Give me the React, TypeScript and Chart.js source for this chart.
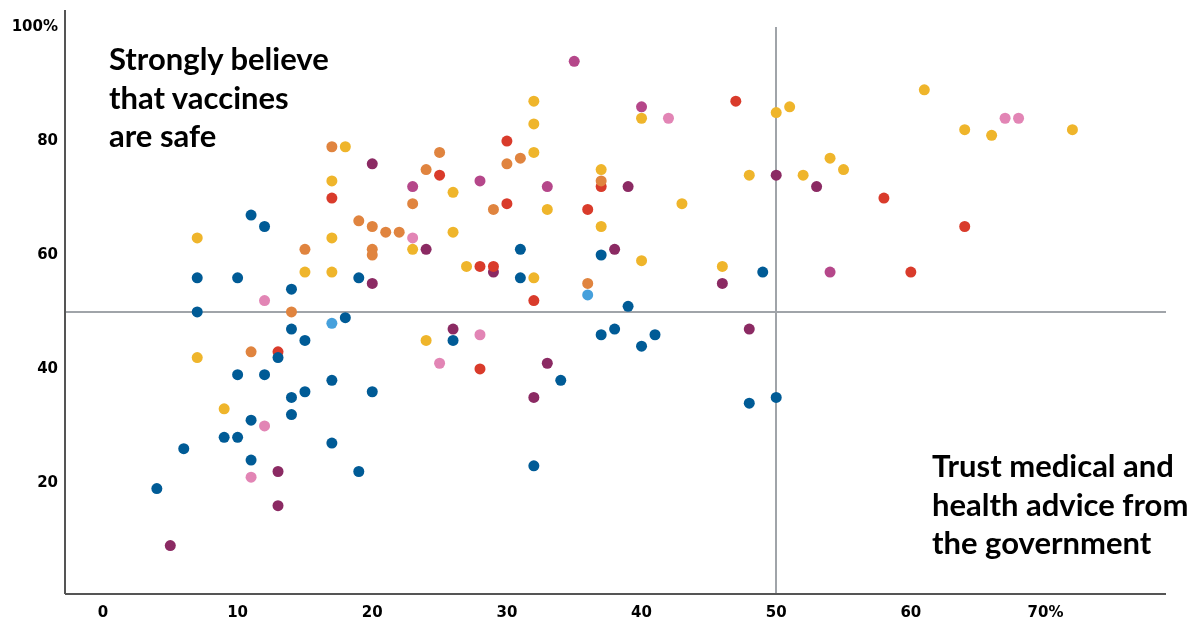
import React, { useEffect, useRef } from "react";
import { Chart, registerables } from "chart.js";

Chart.register(...registerables);

// ---- Data (x = trust government health advice %, y = strongly believe vaccines safe %) ----
const xTicks = [0, 10, 20, 30, 40, 50, 60, 70];
const yTicks = [20, 40, 60, 80, 100];
const refX = 50;
const refY = 50;
const refTop = 100;

const groupBlue: number[][] = [
  [11, 67], [12, 65], [7, 56], [10, 56], [19, 56], [14, 54], [7, 50], [18, 49], [14, 47], [15, 45],
  [13, 42], [10, 39], [12, 39], [17, 38], [15, 36], [20, 36], [14, 35], [14, 32], [11, 31], [9, 28],
  [10, 28], [17, 27], [6, 26], [11, 24], [19, 22], [4, 19],
  [31, 61], [37, 60], [49, 57], [31, 56], [39, 51], [26, 45], [37, 46], [38, 47], [41, 46], [40, 44],
  [34, 38], [48, 34], [50, 35], [32, 23],
];
const groupYellow: number[][] = [
  [18, 79], [17, 73], [7, 63], [17, 63], [15, 57], [17, 57], [7, 42], [9, 33],
  [32, 87], [51, 86], [40, 84], [50, 85], [32, 83], [32, 78], [37, 75], [48, 74], [26, 71], [33, 68], [43, 69],
  [37, 65], [26, 64], [23, 61], [40, 59], [46, 58], [27, 58], [32, 56], [24, 45],
  [61, 89], [64, 82], [66, 81], [72, 82], [54, 77], [55, 75], [52, 74],
];
const groupOrange: number[][] = [
  [17, 79], [19, 66], [20, 65], [21, 64], [22, 64], [15, 61], [20, 61], [20, 60], [14, 50], [11, 43],
  [25, 78], [31, 77], [30, 76], [24, 75], [37, 73], [23, 69], [29, 68], [36, 55],
];
const groupRed: number[][] = [
  [17, 70], [13, 43], [47, 87], [30, 80], [25, 74], [37, 72], [30, 69], [36, 68], [28, 58], [29, 58],
  [32, 52], [28, 40], [58, 70], [64, 65], [60, 57],
];
const groupPink: number[][] = [
  [12, 52], [12, 30], [11, 21], [42, 84], [23, 63], [28, 46], [25, 41], [67, 84], [68, 84],
];
const groupPurple: number[][] = [
  [20, 76], [20, 55], [13, 22], [13, 16], [5, 9], [50, 74], [39, 72], [24, 61], [38, 61], [29, 57],
  [46, 55], [26, 47], [48, 47], [33, 41], [32, 35], [53, 72],
];
const groupMagenta: number[][] = [
  [35, 94], [40, 86], [23, 72], [28, 73], [33, 72], [54, 57],
];
const groupLightBlue: number[][] = [
  [17, 48], [36, 53],
];

const groups = [
  { name: "Blue", data: groupBlue, color: "#005b96" },
  { name: "Yellow", data: groupYellow, color: "#efb52b" },
  { name: "Orange", data: groupOrange, color: "#e0843f" },
  { name: "Red", data: groupRed, color: "#d93b2b" },
  { name: "Pink", data: groupPink, color: "#e285b5" },
  { name: "Purple", data: groupPurple, color: "#8b2a63" },
  { name: "Magenta", data: groupMagenta, color: "#b5478a" },
  { name: "LightBlue", data: groupLightBlue, color: "#45a0dc" },
];

const FONT = "Lato, 'Open Sans', sans-serif";
const TICK_FONT = "'DejaVu Sans', sans-serif";

const refLines = {
  id: "refLines",
  beforeDatasetsDraw(chart: any) {
    const { ctx, scales, chartArea } = chart;
    const x = scales.x;
    const y = scales.y;
    const left = chartArea.left;
    const right = chartArea.right;
    const top = chartArea.top;
    const bottom = chartArea.bottom;
    ctx.save();
    // reference lines
    ctx.strokeStyle = "#a0a4a9";
    ctx.lineWidth = 2;
    const px = Math.round(x.getPixelForValue(refX));
    ctx.beginPath();
    ctx.moveTo(px, y.getPixelForValue(refTop));
    ctx.lineTo(px, bottom);
    ctx.stroke();
    const py = Math.round(y.getPixelForValue(refY));
    ctx.beginPath();
    ctx.moveTo(left, py);
    ctx.lineTo(right, py);
    ctx.stroke();
    // axis lines
    ctx.strokeStyle = "#555555";
    ctx.lineWidth = 2;
    ctx.beginPath();
    ctx.moveTo(left, top);
    ctx.lineTo(left, bottom);
    ctx.stroke();
    ctx.beginPath();
    ctx.moveTo(left, bottom);
    ctx.lineTo(right, bottom);
    ctx.stroke();
    ctx.restore();
  },
};

export default function App() {
  const canvasRef = useRef<HTMLCanvasElement | null>(null);

  useEffect(() => {
    if (!canvasRef.current) return;
    const chart = new Chart(canvasRef.current, {
      type: "scatter",
      data: {
        datasets: groups.map((g) => ({
          label: g.name,
          data: g.data.map(([x, y]) => ({ x, y })),
          backgroundColor: g.color,
          borderWidth: 0,
          pointRadius: 5.5,
          pointHoverRadius: 5.5,
        })),
      },
      options: {
        animation: false,
        responsive: true,
        maintainAspectRatio: false,
        layout: { padding: { top: 10, right: 32, left: 0, bottom: 0 } },
        plugins: { legend: { display: false }, tooltip: { enabled: false } },
        scales: {
          x: {
            type: "linear",
            min: -2.82,
            max: 78.95,
            grid: { display: false, drawTicks: false },
            border: { display: false },
            afterFit: (s: any) => {
              s.height = 34;
              s.paddingLeft = 0;
              s.paddingRight = 0;
            },
            afterBuildTicks: (s: any) => { s.ticks = xTicks.map((v) => ({ value: v })); },
            ticks: {
              padding: 10,
              color: "#000",
              font: { family: TICK_FONT, size: 15, weight: "bold" },
              callback: (v: any) => (v === 70 ? "70%" : String(v)),
            },
          },
          y: {
            type: "linear",
            min: 0.5,
            max: 103,
            grid: { display: false, drawTicks: false },
            border: { display: false },
            afterFit: (s: any) => {
              s.width = 65;
              s.paddingTop = 0;
              s.paddingBottom = 0;
            },
            afterBuildTicks: (s: any) => { s.ticks = yTicks.map((v) => ({ value: v })); },
            ticks: {
              padding: 7,
              color: "#000",
              font: { family: TICK_FONT, size: 15, weight: "bold" },
              callback: (v: any) => (v === 100 ? "100%" : String(v)),
            },
          },
        },
      },
      plugins: [refLines],
    });
    return () => chart.destroy();
  }, []);

  const textStyle: React.CSSProperties = {
    position: "absolute",
    fontFamily: FONT,
    fontWeight: 700,
    fontSize: 31,
    lineHeight: "38.5px",
    color: "#000",
    whiteSpace: "nowrap",
  };

  return (
    <div style={{ position: "absolute", left: 0, top: 0, width: 1198, height: 628, background: "#fff" }}>
      <canvas ref={canvasRef} />
      <div style={{ ...textStyle, left: 109, top: 39 }}>
        Strongly believe<br />that vaccines<br />are safe
      </div>
      <div style={{ ...textStyle, left: 932, top: 446 }}>
        Trust medical and<br />health advice from<br />the government
      </div>
    </div>
  );
}
